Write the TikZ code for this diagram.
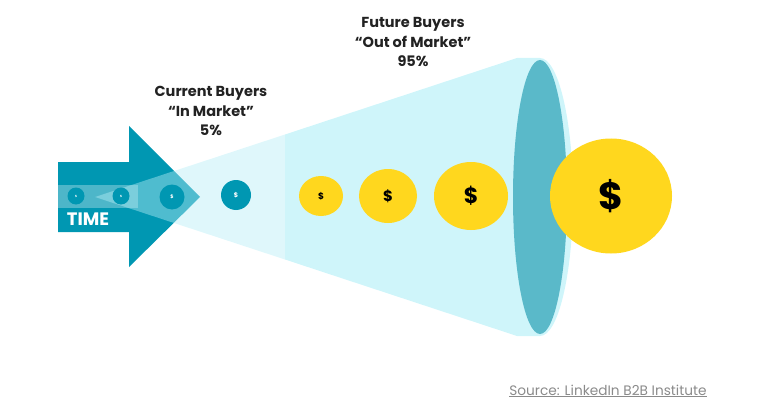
\documentclass[tikz,border=0pt]{standalone}
\usepackage{fontspec}
\setmainfont{Poppins}
\usetikzlibrary{shapes.geometric}
\definecolor{arrowteal}{HTML}{0097B2}
\definecolor{conelight}{RGB}{182,237,246}
\definecolor{coneright}{HTML}{CFF5FA}
\definecolor{rimdark}{HTML}{5AB9C9}
\definecolor{coinyellow}{HTML}{FFD71E}
\definecolor{labeltext}{HTML}{222222}
\definecolor{srcgray}{HTML}{8A8A8A}
\tikzset{
  tealcoin/.style={circle,fill=arrowteal,inner sep=0pt,text=white,font=\bfseries},
  goldcoin/.style={ellipse,fill=coinyellow,inner sep=0pt,text=black,font=\bfseries},
  headline/.style={align=center,text=labeltext,font=\bfseries\fontsize{14.5}{19.5}\selectfont}
}
\begin{document}
\begin{tikzpicture}[x=1pt,y=-1pt]
\useasboundingbox (0,0) rectangle (768,417);
% time arrow
\fill[arrowteal] (58,162) -- (129,162) -- (129,126) -- (200,197) -- (129,267) -- (129,232) -- (58,232) -- cycle;
\fill[white,opacity=.3] (58,185) rectangle (138,208);
% cone
\fill[conelight,opacity=.44] (95,197) -- (285,134.5) -- (285,259.5) -- cycle;
\fill[coneright] (285,134.5) -- (517,58) -- (540,58) -- (540,336) -- (517,336) -- (285,259.5) -- cycle;
\fill[coneright] (540,197) ellipse [x radius=33, y radius=139];
\fill[rimdark] (540,197) ellipse [x radius=27, y radius=137];
% teal coins
\node[tealcoin,minimum size=17] (t1) at (76,196) {\fontsize{3}{3}\selectfont\$};
\node[tealcoin,minimum size=17] (t2) at (121,196) {\fontsize{3}{3}\selectfont\$};
\node[tealcoin,minimum size=25] (t3) at (172,197) {\fontsize{5}{5}\selectfont\$};
\node[tealcoin,minimum size=30] (t4) at (236,195) {\fontsize{6.5}{6.5}\selectfont\$};
% yellow coins
\node[goldcoin,minimum width=44,minimum height=40] (y1) at (321,196) {\fontsize{9}{9}\selectfont\$};
\node[goldcoin,minimum width=58,minimum height=54] (y2) at (388,196) {\fontsize{15}{15}\selectfont\$};
\node[goldcoin,minimum width=74,minimum height=68] (y3) at (471,196) {\fontsize{22}{22}\selectfont\$};
\node[goldcoin,minimum width=122,minimum height=115] (y4) at (611,196) {\fontsize{38}{38}\selectfont\$};
% labels
\node[text=white,font=\bfseries\fontsize{18}{18}\selectfont] (time) at (88,219) {TIME};
\node[headline] (cur) at (211,111) {Current Buyers\\“In Market”\\5\%};
\node[headline] (fut) at (413,42) {Future Buyers\\“Out of Market”\\95\%};
\node[text=srcgray,font=\fontsize{13.7}{13.7}\selectfont] (src) at (608,391) {\underline{Source: LinkedIn B2B Institute}};
\end{tikzpicture}
\end{document}
